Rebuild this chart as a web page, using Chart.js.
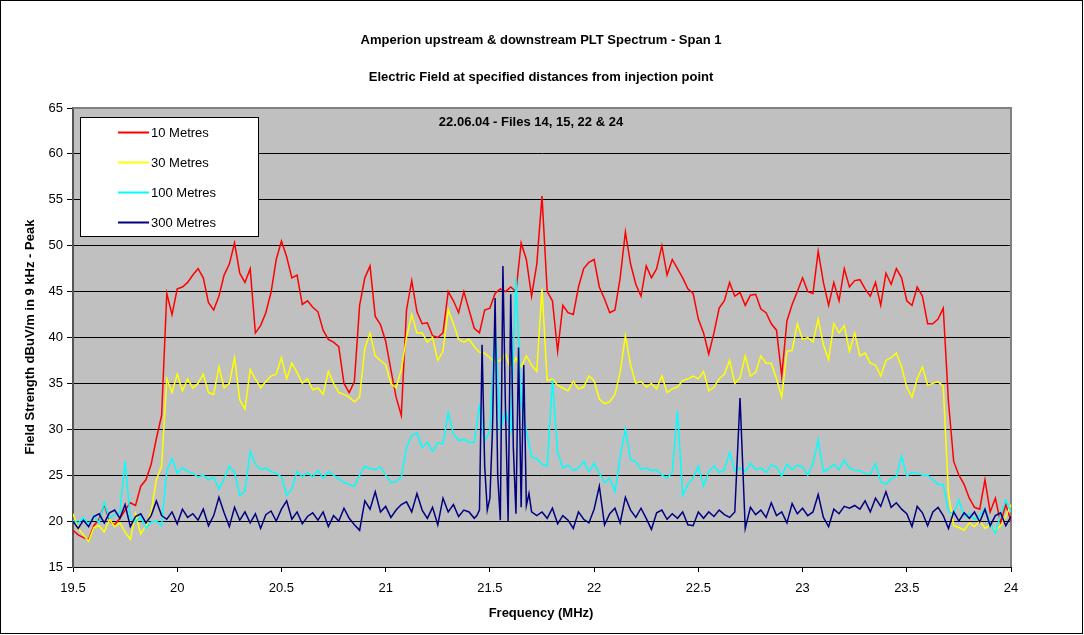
<!DOCTYPE html>
<html>
<head>
<meta charset="utf-8">
<title>Amperion PLT Spectrum - Span 1</title>
<script src="https://cdn.jsdelivr.net/npm/chart.js@4.4.1/dist/chart.umd.min.js"></script>
<style>
    body { margin: 0; background: #ffffff; }
    canvas { display: block; }
</style>
</head>
<body>
<canvas id="spectrumChart" width="1084" height="635"></canvas>
<script>
// Frequency grid (MHz): every trace is sampled from 19.5 MHz in steps of 0.025 MHz
const freqStart = 19.5;
const freqStep = 0.025;

const seriesNames = ['10 Metres', '30 Metres', '100 Metres', '300 Metres'];
const seriesColors = ['#ff0000', '#ffff00', '#00ffff', '#000080'];

// Field strength (dBuV/m), one row per 0.25 MHz
const red10 = [
    19.0, 18.5, 18.2, 18.0, 19.5, 20.2, 21.8, 20.0, 19.6, 20.3,
    21.2, 22.0, 21.7, 23.8, 24.5, 26.2, 29.0, 31.5, 44.8, 42.5,
    45.3, 45.5, 46.0, 46.8, 47.5, 46.5, 43.8, 43.0, 44.5, 46.8,
    48.0, 50.3, 47.0, 46.0, 47.5, 40.5, 41.3, 42.7, 44.9, 48.5,
    50.5, 48.8, 46.5, 46.8, 43.6, 44.0, 43.3, 42.8, 40.8, 39.8,
    39.5, 39.0, 35.0, 34.0, 35.2, 43.5, 46.5, 47.8, 42.3, 41.4,
    39.6, 36.5, 33.5, 31.5, 43.0, 46.2, 42.8, 41.5, 41.6, 40.2,
    40.0, 40.5, 45.0, 44.0, 42.7, 45.0, 43.0, 41.0, 40.5, 43.0,
    43.2, 44.8, 45.3, 45.0, 45.5, 45.0, 50.3, 48.5, 44.5, 48.0,
    55.4, 45.0, 44.0, 38.5, 43.5, 42.7, 42.5, 45.5, 47.5, 48.2,
    48.5, 45.5, 44.2, 42.7, 43.0, 46.5, 51.5, 48.0, 45.8, 44.5,
    47.8, 46.5, 47.5, 50.0, 46.8, 48.5, 47.5, 46.5, 45.3, 44.8,
    42.0, 40.5, 38.2, 40.5, 43.2, 44.0, 46.0, 44.5, 44.9, 43.5,
    44.6, 44.7, 43.1, 42.7, 41.5, 40.8, 35.8, 41.8, 43.6, 45.0,
    46.5, 45.0, 44.8, 49.4, 46.0, 43.5, 46.0, 44.0, 47.5, 45.5,
    46.2, 46.3, 45.3, 44.5, 46.0, 43.5, 47.0, 45.8, 47.5, 46.5,
    44.0, 43.5, 45.5, 44.5, 41.5, 41.5, 42.0, 43.2, 33.0, 26.5,
    25.0, 24.0, 22.5, 21.5, 21.3, 24.5, 21.0, 22.5, 19.8, 21.8,
    20.0
];

const yellow30 = [
    20.8, 19.2, 18.5, 17.8, 19.3, 19.5, 18.8, 20.2, 19.4, 19.8,
    18.8, 18.0, 20.8, 18.6, 19.5, 21.0, 24.5, 26.0, 35.5, 34.0,
    36.0, 34.2, 35.5, 34.5, 35.0, 36.0, 34.0, 33.8, 36.8, 34.5,
    35.0, 37.8, 33.2, 32.2, 36.5, 35.5, 34.5, 35.2, 35.8, 36.0,
    37.8, 35.5, 37.2, 36.2, 35.0, 35.5, 34.3, 34.5, 33.8, 36.3,
    35.0, 34.0, 33.8, 33.5, 33.0, 33.5, 38.8, 40.5, 38.0, 37.5,
    37.0, 35.0, 34.5, 36.5, 40.0, 42.5, 40.5, 40.5, 39.5, 40.0,
    37.5, 38.5, 43.0, 41.5, 39.8, 39.5, 39.8, 39.0, 38.4, 38.3,
    37.8, 37.3, 37.5, 38.2, 36.5, 37.8, 36.8, 38.0, 37.0, 36.3,
    45.3, 35.3, 35.5, 34.8, 34.5, 34.2, 35.2, 34.4, 34.6, 35.8,
    35.3, 33.3, 32.8, 33.0, 33.8, 36.2, 40.2, 37.0, 35.0, 35.2,
    34.6, 35.0, 34.4, 35.8, 34.0, 34.4, 34.6, 35.3, 35.5, 35.8,
    35.5, 36.3, 34.2, 34.6, 35.5, 36.0, 37.5, 35.0, 35.6, 38.0,
    35.8, 36.2, 38.0, 37.2, 37.2, 35.5, 33.5, 38.5, 38.6, 41.5,
    39.8, 40.0, 39.5, 42.0, 39.2, 37.6, 41.5, 40.5, 41.3, 38.5,
    40.5, 38.0, 38.3, 37.2, 37.0, 35.8, 37.5, 37.8, 38.3, 36.8,
    34.6, 33.5, 35.5, 36.8, 34.8, 35.0, 35.2, 34.7, 23.0, 19.5,
    19.3, 19.0, 19.8, 19.4, 20.0, 19.2, 19.6, 19.0, 19.5, 20.5,
    21.8
];

const cyan100 = [
    20.1, 19.8, 20.4, 19.6, 20.6, 19.8, 22.0, 20.3, 20.7, 21.0,
    26.5, 20.3, 19.9, 20.5, 19.2, 19.9, 20.0, 19.5, 25.5, 26.8,
    25.2, 25.8, 25.4, 25.2, 24.8, 25.0, 24.5, 24.8, 23.5, 24.6,
    26.0, 25.3, 22.8, 23.3, 27.6, 26.2, 25.6, 25.8, 25.4, 25.2,
    24.8, 22.8, 23.5, 25.4, 24.8, 25.3, 24.8, 25.5, 24.7, 25.4,
    25.0, 24.6, 24.2, 24.0, 23.8, 25.0, 26.0, 25.7, 25.6, 25.9,
    25.0, 24.2, 24.3, 24.8, 28.0, 29.3, 29.6, 28.0, 28.6, 27.6,
    28.5, 28.4, 31.8, 29.5, 28.8, 28.9, 28.6, 28.6, 32.5, 28.7,
    29.8, 41.5, 30.0, 32.0, 29.8, 46.5, 33.0, 29.8, 27.0, 26.8,
    26.2, 26.0, 35.4, 27.5, 25.8, 26.1, 25.5, 25.8, 26.5, 25.4,
    26.3, 25.2, 24.2, 24.7, 23.2, 27.0, 30.0, 26.7, 26.5, 25.6,
    25.8, 25.5, 25.6, 25.0, 24.7, 25.3, 32.0, 22.8, 24.0, 24.7,
    26.0, 23.8, 25.4, 26.0, 25.3, 25.6, 27.5, 25.5, 25.8, 25.4,
    26.3, 25.6, 25.8, 25.3, 26.1, 25.9, 24.9, 26.2, 25.6, 26.1,
    25.9, 25.0, 26.3, 28.9, 25.4, 25.7, 26.2, 25.6, 26.6, 25.8,
    25.5, 25.5, 25.2, 25.1, 26.3, 24.3, 24.0, 24.6, 24.9, 27.1,
    24.9, 25.3, 25.2, 25.0, 25.0, 24.5, 24.0, 24.0, 21.0, 20.8,
    22.3, 20.5, 20.8, 20.2, 20.6, 21.4, 19.8, 18.7, 20.7, 22.3,
    21.0
];

// 300 m trace; the burst between 21.44 and 21.69 MHz is held in the finer arrays below
const navy300 = [
    20.0, 19.2, 20.1, 19.4, 20.5, 20.8, 19.8, 20.9, 21.2, 20.3,
    21.8, 19.4, 20.5, 20.8, 19.8, 20.6, 22.2, 20.6, 20.2, 21.0,
    19.7, 21.3, 20.4, 20.8, 20.1, 21.3, 19.5, 20.6, 22.6, 20.9,
    19.4, 21.5, 20.1, 21.0, 19.8, 20.8, 19.2, 20.7, 21.1, 20.0,
    21.3, 22.2, 20.2, 21.0, 19.7, 20.5, 20.9, 20.1, 21.0, 19.4,
    20.6, 20.0, 21.4, 20.3, 19.6, 19.0, 22.2, 21.3, 23.2, 21.0,
    21.6, 20.4, 21.2, 21.8, 22.1, 21.0, 23.0, 21.2, 20.3, 21.5,
    19.6, 22.5, 21.0, 21.8, 20.5, 21.2, 21.0, 20.3, null, null,
    null, null, null, null, null, null, null, null, 21.0, 20.6,
    21.0, 20.3, 21.4, 19.7, 20.6, 20.1, 19.2, 21.0, 20.2, 19.8,
    21.3, 23.8, 19.6, 20.8, 21.4, 19.8, 22.6, 21.2, 20.4, 21.4,
    20.3, 19.1, 20.9, 21.2, 20.2, 20.8, 20.3, 21.0, 19.6, 19.5,
    21.0, 20.3, 21.0, 20.5, 21.2, 20.7, 20.4, 21.0, 33.4, 19.2,
    21.5, 20.7, 21.2, 20.4, 22.0, 20.6, 21.0, 19.8, 21.9, 20.8,
    21.4, 20.6, 21.0, 22.9, 20.4, 19.4, 21.3, 20.8, 21.6, 21.4,
    21.7, 21.3, 22.2, 21.0, 22.5, 21.6, 23.2, 21.5, 22.0, 21.3,
    20.8, 19.4, 21.6, 20.9, 19.5, 21.0, 21.5, 20.6, 19.2, 21.0,
    20.0, 20.9, 20.3, 21.0, 19.9, 21.3, 19.5, 20.6, 20.9, 19.5,
    20.5
];

const burstFreq = [
    21.4375, 21.45, 21.4625, 21.475, 21.4875, 21.5, 21.5125, 21.525, 21.5375, 21.55, 21.5625,
    21.575, 21.5875, 21.6, 21.6125, 21.625, 21.6375, 21.65, 21.6625, 21.675, 21.6875
];
const burstNavy = [
    20.6, 21.2, 39.2, 26.0, 21.2, 22.5, 30.0, 44.3, 25.0, 20.1, 47.8,
    32.0, 20.0, 44.7, 28.0, 20.8, 38.9, 21.5, 37.0, 21.7, 23.0
];

const xTicksMin = 19.5, xTicksMax = 24, xTickStep = 0.5;
const yTicksMin = 15, yTicksMax = 65, yTickStep = 5;

const titleLines = [
    'Amperion upstream & downstream PLT Spectrum - Span 1',
    'Electric Field at specified distances from injection point'
];
const plotNote = '22.06.04 - Files 14, 15, 22 & 24';
const xTitle = 'Frequency (MHz)';
const yTitle = 'Field Strength dBuV/m in 9 kHz - Peak';

const FONT = '"Liberation Sans", Arial, sans-serif';

// Turn a value list on the fixed grid into {x, y} points, dropping gaps
function toPoints(values) {
    const pts = [];
    values.forEach(function(v, i) {
        if (v === null) return;
        pts.push({ x: +(freqStart + i * freqStep).toFixed(4), y: v });
    });
    return pts;
}

function navyPoints() {
    const pts = toPoints(navy300);
    burstFreq.forEach(function(f, i) {
        pts.push({ x: f, y: burstNavy[i] });
    });
    pts.sort(function(a, b) { return a.x - b.x; });
    return pts;
}

// Titles, plot background, border, legend and axis titles drawn around the chart
const chartDecor = {
    id: 'chartDecor',
    beforeDraw(chart) {
        const ctx = chart.ctx;
        const a = chart.chartArea;
        ctx.save();
        ctx.fillStyle = '#ffffff';
        ctx.fillRect(0, 0, chart.width, chart.height);
        ctx.fillStyle = '#c0c0c0';
        ctx.fillRect(a.left, a.top, a.right - a.left, a.bottom - a.top);
        ctx.restore();
    },
    beforeDatasetsDraw(chart) {
        const ctx = chart.ctx;
        const a = chart.chartArea;
        ctx.save();
        ctx.strokeStyle = '#808080';
        ctx.lineWidth = 2;
        ctx.beginPath();
        ctx.moveTo(a.left, a.top);
        ctx.lineTo(a.right, a.top);
        ctx.lineTo(a.right, a.bottom);
        ctx.stroke();
        ctx.restore();
    },
    afterDraw(chart) {
        const ctx = chart.ctx;
        ctx.save();

        // outer frame
        ctx.strokeStyle = '#000000';
        ctx.lineWidth = 1;
        ctx.strokeRect(0.5, 0.5, chart.width - 2, chart.height - 2);

        ctx.fillStyle = '#000000';
        ctx.textAlign = 'center';
        ctx.textBaseline = 'middle';
        ctx.font = 'bold 13px ' + FONT;
        ctx.fillText(titleLines[0], 541, 40);
        ctx.fillText(titleLines[1], 541, 77);
        ctx.fillText(plotNote, 531, 122);
        ctx.fillText(xTitle, 541, 613);

        ctx.save();
        ctx.translate(30, 337);
        ctx.rotate(-Math.PI / 2);
        ctx.fillText(yTitle, 0, 0);
        ctx.restore();

        // legend box
        ctx.fillStyle = '#ffffff';
        ctx.fillRect(81, 117, 178, 120);
        ctx.strokeStyle = '#000000';
        ctx.lineWidth = 1;
        ctx.strokeRect(80.5, 117.5, 178, 119);
        ctx.font = '13px ' + FONT;
        ctx.textAlign = 'left';
        seriesNames.forEach(function(name, i) {
            const y = 132 + i * 30;
            ctx.strokeStyle = seriesColors[i];
            ctx.lineWidth = 2;
            ctx.beginPath();
            ctx.moveTo(118, y + 0.5);
            ctx.lineTo(149, y + 0.5);
            ctx.stroke();
            ctx.fillStyle = '#000000';
            ctx.fillText(name, 151, y + 1);
        });
        ctx.restore();
    }
};

document.addEventListener('DOMContentLoaded', function() {
    const ctx = document.getElementById('spectrumChart').getContext('2d');
    const seriesData = [toPoints(red10), toPoints(yellow30), toPoints(cyan100), navyPoints()];

    new Chart(ctx, {
        type: 'line',
        data: {
            datasets: seriesData.map(function(pts, i) {
                return {
                    label: seriesNames[i],
                    data: pts,
                    borderColor: seriesColors[i],
                    backgroundColor: seriesColors[i],
                    borderWidth: 1.5,
                    pointRadius: 0,
                    tension: 0,
                    fill: false,
                    order: seriesNames.length - i
                };
            })
        },
        options: {
            responsive: false,
            animation: false,
            layout: { padding: { top: 108, right: 73, bottom: 0, left: 0 } },
            plugins: {
                legend: { display: false },
                title: { display: false },
                tooltip: { enabled: false }
            },
            scales: {
                x: {
                    type: 'linear',
                    min: xTicksMin,
                    max: xTicksMax,
                    ticks: {
                        stepSize: xTickStep,
                        color: '#000000',
                        font: { family: FONT, size: 13 },
                        padding: 9,
                        maxRotation: 0,
                        callback: function(value) { return String(Math.round(value * 10) / 10); }
                    },
                    grid: { drawOnChartArea: false, drawTicks: true, tickLength: 5, color: '#000000' },
                    border: { color: '#000000', width: 1 },
                    afterFit: function(scale) { scale.height = 68; }
                },
                y: {
                    min: yTicksMin,
                    max: yTicksMax,
                    ticks: {
                        stepSize: yTickStep,
                        color: '#000000',
                        font: { family: FONT, size: 13 },
                        padding: 4
                    },
                    grid: { color: '#000000', lineWidth: 1, drawTicks: true, tickLength: 6 },
                    border: { color: '#555555', width: 2 },
                    afterFit: function(scale) { scale.width = 73; }
                }
            }
        },
        plugins: [chartDecor]
    });
});
</script>
</body>
</html>
